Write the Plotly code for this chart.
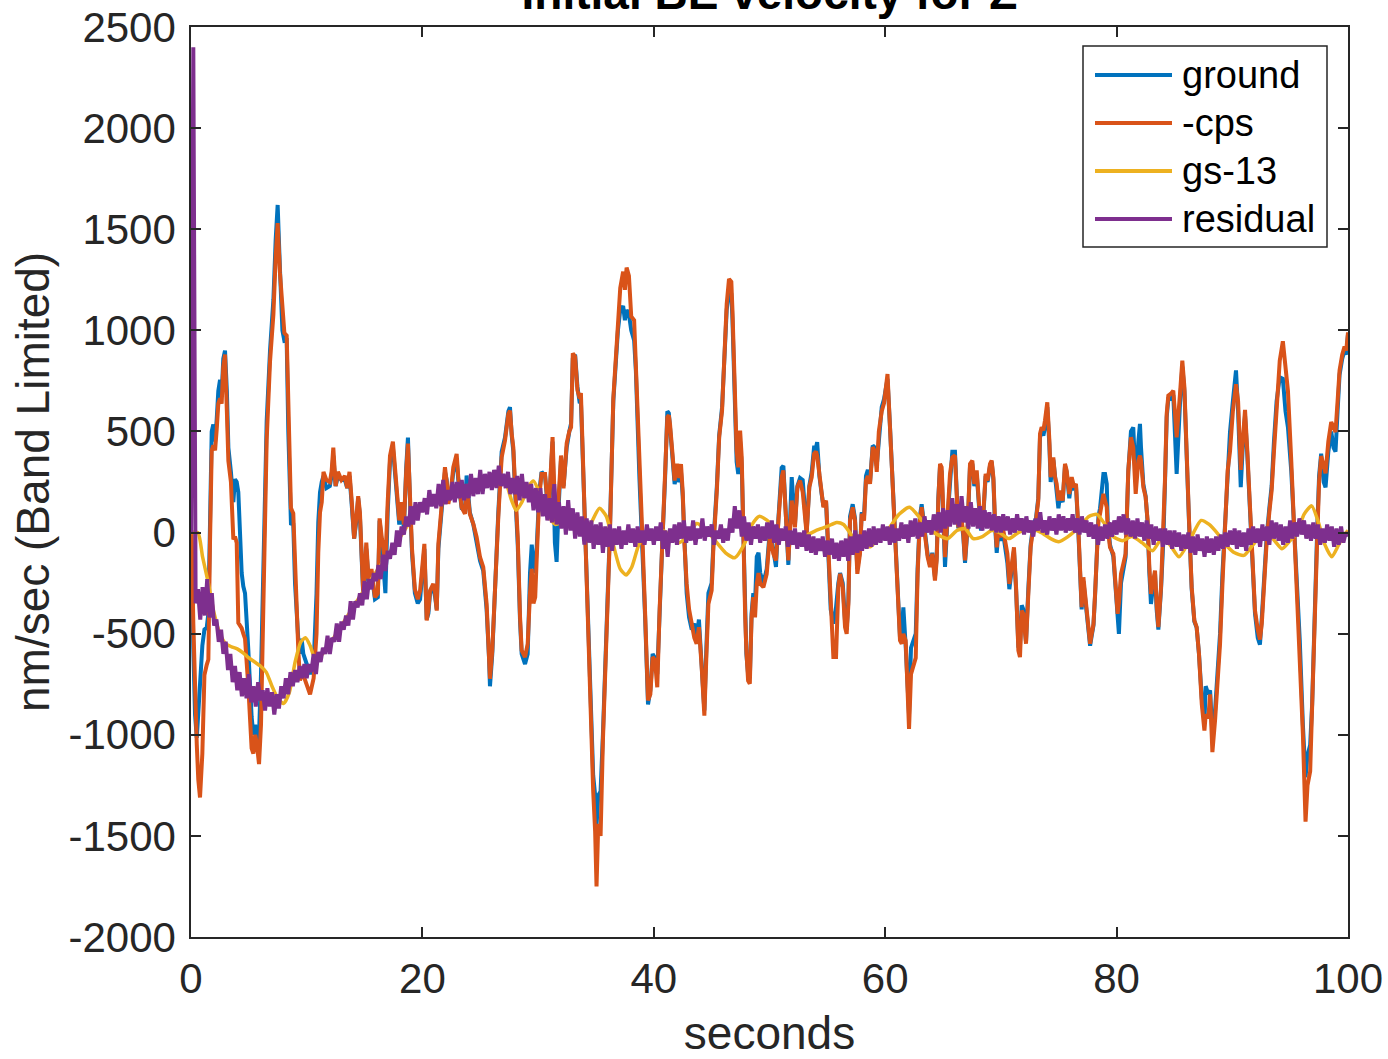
import plotly.graph_objects as go

# ---------------- data ----------------
x_tick_vals = [0, 20, 40, 60, 80, 100]
x_tick_text = ["0", "20", "40", "60", "80", "100"]
y_tick_vals = [-2000, -1500, -1000, -500, 0, 500, 1000, 1500, 2000, 2500]
y_tick_text = ["-2000", "-1500", "-1000", "-500", "0", "500", "1000", "1500", "2000", "2500"]

series_names = ["ground", "-cps", "gs-13", "residual"]

# key sample times (s) shared by ground and -cps
t_key = [
    0, 0.06, 0.2, 0.35, 0.5, 0.63, 0.78, 0.98, 1.16, 1.36,
    1.5, 1.64, 1.79, 1.93, 2.08, 2.22, 2.36, 2.51, 2.65, 2.79,
    2.94, 3.1, 3.23, 3.45, 3.66, 3.8, 3.95, 4.09, 4.25, 4.38,
    4.52, 4.67, 4.95, 5.1, 5.24, 5.39, 5.55, 5.68, 5.88, 6.05,
    6.25, 6.54, 6.83, 7.12, 7.32, 7.49, 7.69, 7.9, 8.07, 8.27,
    8.41, 8.64, 8.84, 8.99, 9.27, 9.42, 9.56, 9.71, 10.0, 10.29,
    10.6, 10.85, 11.0, 11.15, 11.3, 11.45, 11.7, 12.0, 12.15, 12.3,
    12.5, 12.7, 13.0, 13.3, 13.5, 13.7, 13.9, 14.1, 14.3, 14.45,
    14.6, 14.9, 15.15, 15.35, 15.6, 15.9, 16.15, 16.3, 16.5, 16.8,
    17.0, 17.2, 17.45, 17.75, 18.0, 18.2, 18.4, 18.6, 18.75, 18.95,
    19.1, 19.35, 19.6, 19.8, 20.0, 20.17, 20.37, 20.52, 20.66, 20.94,
    21.1, 21.24, 21.38, 21.67, 21.95, 22.1, 22.24, 22.45, 22.67, 22.96,
    23.1, 23.39, 23.68, 23.82, 24.1, 24.4, 24.69, 24.98, 25.26, 25.55,
    25.76, 25.84, 26.04, 26.27, 26.56, 26.85, 27.14, 27.43, 27.57, 27.72,
    27.86, 28.0, 28.24, 28.44, 28.58, 28.87, 29.1, 29.3, 29.45, 29.6,
    29.75, 29.9, 30.1, 30.3, 30.6, 30.9, 31.05, 31.25, 31.45, 31.6,
    31.75, 31.98, 32.2, 32.47, 32.7, 32.85, 33.0, 33.2, 33.4, 33.6,
    33.7, 33.9, 34.2, 34.5, 34.76, 34.93, 35.05, 35.2, 35.4, 35.6,
    35.9, 36.2, 36.5, 36.7, 36.9, 37.1, 37.35, 37.5, 37.65, 37.85,
    38.05, 38.3, 38.45, 38.75, 39.0, 39.25, 39.5, 39.7, 39.9, 40.1,
    40.3, 40.5, 40.75, 40.97, 41.17, 41.3, 41.4, 41.6, 41.8, 42.0,
    42.2, 42.35, 42.5, 42.65, 42.84, 43.05, 43.28, 43.5, 43.7, 43.9,
    44.14, 44.37, 44.55, 44.72, 45.0, 45.15, 45.45, 45.65, 45.9, 46.1,
    46.3, 46.5, 46.7, 46.8, 46.96, 47.16, 47.3, 47.46, 47.6, 47.75,
    47.9, 48.0, 48.15, 48.3, 48.45, 48.6, 48.75, 48.9, 49.05, 49.2,
    49.47, 49.76, 50.04, 50.33, 50.56, 50.77, 51.05, 51.2, 51.34, 51.63,
    51.92, 52.2, 52.41, 52.64, 52.87, 53.07, 53.21, 53.44, 53.65, 53.85,
    54.02, 54.12, 54.31, 54.51, 54.66, 54.89, 55.09, 55.29, 55.52, 55.75,
    55.95, 56.1, 56.33, 56.53, 56.67, 56.82, 56.96, 57.19, 57.39, 57.59,
    57.82, 57.97, 58.17, 58.34, 58.5, 58.69, 58.92, 59.12, 59.27, 59.45,
    59.7, 59.9, 60.2, 60.4, 60.6, 60.85, 61.07, 61.28, 61.43, 61.57,
    61.77, 61.94, 62.06, 62.23, 62.44, 62.64, 62.8, 63.0, 63.15, 63.44,
    63.67, 63.87, 64.07, 64.3, 64.45, 64.59, 64.74, 64.88, 65.02, 65.17,
    65.4, 65.6, 65.8, 66.03, 66.18, 66.32, 66.55, 66.75, 66.9, 67.13,
    67.33, 67.53, 67.7, 67.91, 68.11, 68.28, 68.48, 68.68, 68.85, 69.06,
    69.2, 69.35, 69.49, 69.64, 69.78, 69.93, 70.16, 70.36, 70.56, 70.73,
    70.93, 71.13, 71.31, 71.51, 71.65, 71.8, 71.94, 72.17, 72.37, 72.57,
    72.8, 73.03, 73.23, 73.38, 73.52, 73.67, 73.81, 74.01, 74.19, 74.3,
    74.53, 74.68, 74.82, 74.97, 75.11, 75.34, 75.54, 75.68, 75.91, 76.12,
    76.32, 76.49, 76.69, 76.84, 76.98, 77.13, 77.27, 77.42, 77.56, 77.71,
    77.85, 78.0, 78.14, 78.28, 78.43, 78.57, 78.72, 78.86, 79.0, 79.15,
    79.23, 79.43, 79.72, 79.92, 80.09, 80.2, 80.38, 80.58, 80.78, 81.01,
    81.24, 81.44, 81.65, 81.88, 82.02, 82.11, 82.31, 82.51, 82.68, 82.83,
    82.97, 83.17, 83.32, 83.46, 83.61, 83.84, 84.04, 84.18, 84.33, 84.47,
    84.7, 84.9, 85.05, 85.19, 85.48, 85.68, 85.86, 86.06, 86.26, 86.49,
    86.72, 86.92, 87.12, 87.36, 87.59, 87.7, 87.93, 88.08, 88.28, 88.51,
    88.74, 88.94, 89.15, 89.37, 89.6, 89.8, 90.05, 90.32, 90.5, 90.73,
    90.9, 91.1, 91.3, 91.53, 91.75, 91.96, 92.2, 92.39, 92.55, 92.7,
    92.97, 93.2, 93.4, 93.6, 93.83, 94.1, 94.37, 94.6, 94.81, 95.1,
    95.39, 95.6, 95.83, 96.1, 96.33, 96.5, 96.73, 96.9, 97.05, 97.33,
    97.5, 97.68, 97.9, 98.06, 98.3, 98.55, 98.75, 98.92, 99.1, 99.27,
    99.5, 99.7, 99.85, 100.0,
]

# -cps (nm/sec)
v_cps = [
    0, 0, -450, -835, -1050, -1222, -1310, -1093, -705, -654,
    -628, -60, 406, 431, 406, 509, 638, 664, 638, 819,
    880, 600, 354, 250, -34, -20, -50, -447, -460, -473,
    -500, -525, -757, -950, -1067, -1093, -1000, -1040, -1145, -950,
    -318, 457, 845, 1078, 1362, 1530, 1284, 1078, 987, 974,
    587, 121, 95, -163, -576, -731, -700, -705, -760, -800,
    -720, -500, -100, 100, 150, 300, 260, 250, 300, 420,
    230, 300, 260, 280, 220, 300, 150, -30, 80, 180,
    100, -320, -50, -230, -180, -320, -300, 70, -30, -150,
    150, 380, 450, 200, 60, 150, 40, 300, 440, 150,
    -80, -280, -330, -287, -150, -56, -435, -380, -287, -254,
    -300, -386, -56, 158, 323, 250, 142, 200, 323, 389,
    274, 125, 92, 240, 92, 43, -23, -122, -171, -353,
    -583, -723, -583, -254, 76, 372, 455, 587, 603, 488,
    420, 241, -23, -418, -583, -616, -550, -300, -180, -350,
    -320, -100, 178, 290, 290, 88, 290, 472, 130, 50,
    150, 381, 219, 441, 502, 520, 886, 870, 704, 663,
    690, 300, -226, -731, -1276, -1478, -1750, -1440, -1500, -1033,
    -529, -24, 663, 870, 1047, 1209, 1290, 1200, 1310, 1270,
    1068, 1050, 825, 300, 0, -400, -830, -800, -616, -630,
    -765, -386, -40, 240, 570, 580, 537, 400, 257, 340,
    270, 339, 200, -56, -254, -380, -468, -520, -550, -468,
    -666, -905, -600, -353, -287, -73, 208, 471, 603, 867,
    1130, 1254, 1240, 1097, 817, 405, 323, 504, 372, -89,
    -419, -583, -732, -748, -419, -320, -419, -254, -200, -254,
    -270, -204, -7, -105, -138, 59, 274, 307, 158, -138,
    158, 26, 224, 257, 200, 59, -7, 224, 274, 389,
    400, 380, 274, 175, 125, 158, -105, -402, -616, -616,
    -270, -204, -270, -468, -501, -353, 59, 125, 59, -204,
    -105, 92, 59, 257, 280, 241, 422, 400, 300, 500,
    600, 640, 784, 537, 290, -7, -287, -534, -550, -501,
    -534, -864, -971, -700, -666, -620, -204, 59, 125, -10,
    -122, -171, -105, -237, -138, 158, 340, 323, 26, -122,
    92, 290, 372, 381, 191, 26, 92, -7, -138, 43,
    340, 356, 241, 307, 142, 26, 92, 290, 257, 340,
    356, 274, 59, -73, 26, -23, 26, -40, -105, -254,
    -155, -73, -270, -583, -616, -386, -402, -550, -303, -73,
    26, 59, 158, 488, 521, 505, 554, 644, 455, 274,
    372, 274, 241, 158, 208, 158, 340, 307, 191, 274,
    224, 241, 26, -204, -369, -221, -303, -386, -435, -550,
    -501, -453, -303, -105, 59, 92, 158, 191, 158, 125,
    26, -73, -105, -270, -402, -350, -204, -155, -105, 307,
    471, 420, 191, 356, 380, 356, 224, 175, 59, -171,
    -303, -237, -188, -353, -468, -270, -23, 257, 587, 677,
    687, 702, 587, 471, 686, 850, 719, 339, 59, -270,
    -435, -468, -600, -847, -979, -900, -917, -800, -1086, -929,
    -750, -550, -250, 0, 307, 400, 600, 734, 650, 310,
    450, 607, 400, 124, -150, -385, -480, -529, -450, -300,
    -46, 100, 208, 400, 632, 850, 946, 800, 700, 350,
    -46, -300, -554, -995, -1430, -1250, -1181, -900, -554, -46,
    250, 378, 330, 293, 450, 547, 520, 497, 650, 802,
    880, 920, 900, 990,
]

# ground (nm/sec)
v_ground = [
    0, -100, -576, -900, -1015, -900, -760, -560, -480, -470,
    -400, 100, 500, 535, 450, 560, 700, 755, 680, 860,
    900, 700, 420, 300, 150, 264, 250, 200, -50, -200,
    -266, -300, -576, -800, -912, -1000, -950, -1041, -1000, -700,
    -150, 550, 900, 1150, 1450, 1620, 1300, 1000, 948, 950,
    500, 44, 40, -250, -525, -600, -525, -600, -650, -700,
    -650, -300, 50, 200, 250, 280, 220, 230, 280, 380,
    230, 280, 260, 260, 220, 280, 130, -30, 60, 170,
    80, -330, -80, -240, -200, -330, -320, 60, -60, -300,
    100, 350, 420, 180, 40, 130, 20, 320, 470, 120,
    -100, -300, -350, -330, -200, -80, -430, -400, -300, -270,
    -320, -380, -80, 140, 300, 260, 160, 180, 300, 360,
    260, 120, 110, 282, 100, 40, -40, -140, -190, -380,
    -620, -760, -600, -250, 100, 400, 470, 600, 620, 480,
    400, 220, -60, -440, -600, -650, -600, -200, -60, -150,
    -200, -50, 200, 300, 280, 80, 280, 450, -50, -145,
    100, 360, 230, 420, 500, 540, 860, 880, 720, 640,
    650, 280, -250, -760, -1200, -1300, -1450, -1300, -1280, -1000,
    -500, 0, 650, 850, 1000, 1100, 1120, 1050, 1100, 1080,
    1000, 950, 800, 280, -20, -420, -850, -780, -600, -620,
    -700, -350, -30, 260, 600, 590, 500, 380, 240, 300,
    250, 300, 180, -80, -300, -420, -480, -450, -520, -430,
    -640, -880, -560, -300, -250, -50, 230, 480, 620, 850,
    1100, 1200, 1180, 1050, 780, 350, 290, 450, 330, -100,
    -430, -600, -700, -720, -400, -300, -350, -120, -100, -200,
    -250, -180, 20, -90, -170, 70, 320, 330, 170, -160,
    274, 40, 230, 270, 260, 70, 0, 230, 300, 420,
    420, 447, 280, 190, 130, 150, -90, -380, -450, -370,
    -250, -200, -250, -440, -480, -330, 80, 140, 70, -180,
    -90, 100, 80, 280, 310, 250, 430, 420, 330, 480,
    620, 660, 760, 540, 300, 0, -280, -520, -480, -370,
    -560, -800, -900, -570, -530, -500, -180, 80, 140, 0,
    -110, -160, -100, -220, -120, 170, 330, 300, 0, -170,
    80, 280, 400, 400, 200, 20, 80, -20, -150, 30,
    330, 340, 230, 290, 130, 10, 80, 280, 250, 330,
    350, 260, 40, -100, 0, -40, 10, -60, -150, -280,
    -170, -90, -280, -560, -560, -360, -380, -540, -280, -60,
    40, 70, 170, 470, 500, 480, 520, 620, 430, 250,
    360, 260, 200, 120, 180, 150, 330, 300, 170, 260,
    210, 230, 10, -220, -380, -240, -320, -400, -450, -560,
    -510, -460, -310, -100, 80, 120, 200, 290, 290, 240,
    60, -60, -120, -300, -450, -501, -250, -170, -120, 300,
    500, 520, 250, 450, 537, 420, 240, 180, 50, -200,
    -353, -260, -200, -380, -480, -280, -40, 240, 570, 660,
    660, 680, 500, 290, 640, 820, 700, 330, 50, -280,
    -440, -470, -600, -820, -940, -760, -800, -780, -1000, -880,
    -700, -500, -200, 50, 350, 497, 650, 802, 600, 225,
    420, 580, 380, 100, -170, -400, -520, -554, -420, -260,
    -20, 120, 230, 450, 650, 768, 760, 600, 520, 300,
    -30, -280, -530, -950, -1210, -1100, -1050, -850, -500, 0,
    280, 390, 250, 224, 400, 500, 420, 400, 600, 780,
    860, 900, 880, 980,
]

# gs-13 (smooth), key times and values
t_gs = [
    0, 0.6, 1.0, 1.5, 2.0, 2.5, 3.0, 3.5, 4.0, 4.5,
    5.0, 5.5, 6.0, 6.5, 7.0, 7.5, 8.0, 8.5, 9.0, 9.5,
    9.9, 10.3, 10.7, 11.2, 12, 13, 14, 15, 16, 17,
    18, 19, 20, 21, 22, 23, 24, 25, 26, 26.6,
    27.2, 27.7, 28.1, 28.6, 29.2, 29.6, 30.1, 30.7, 31.5, 32.3,
    33.0, 33.8, 34.5, 35.3, 35.9, 36.5, 37.1, 37.6, 38.1, 38.7,
    39.3, 40.0, 40.8, 41.5, 42.2, 43.0, 43.7, 44.4, 45.3, 46.2,
    47.0, 47.8, 48.5, 49.1, 49.8, 50.5, 51.3, 52.2, 53.0, 54.0,
    55.0, 55.8, 56.4, 57.2, 58.0, 58.7, 59.4, 60.3, 61.2, 62.1,
    62.9, 63.7, 64.5, 65.4, 66.2, 66.9, 67.6, 68.4, 69.2, 69.9,
    70.7, 71.5, 72.5, 73.5, 74.3, 75.0, 75.8, 76.8, 77.6, 78.3,
    79.0, 79.7, 80.5, 81.3, 82.2, 83.1, 83.9, 84.6, 85.4, 86.3,
    87.3, 88.0, 88.8, 89.6, 90.2, 91.0, 91.8, 92.7, 93.5, 94.3,
    95.0, 95.6, 96.2, 96.86, 97.5, 98.0, 98.6, 99.2, 99.7, 100.0,
]
v_gs = [
    0, 0, -120, -250, -400, -500, -550, -565, -575, -595,
    -620, -640, -660, -690, -760, -820, -845, -790, -640, -540,
    -520, -560, -620, -610, -550, -460, -370, -280, -195, -110,
    -30, 60, 130, 160, 185, 205, 225, 245, 270, 290,
    250, 160, 110, 150, 230, 255, 200, 100, 40, 60,
    40, 0, 40, 120, 80, -60, -180, -210, -170, -60,
    0, -10, 10, -20, -50, -10, 45, 20, -40, -100,
    -125, -60, 40, 80, 60, 20, -20, -40, -20, 10,
    30, 50, 40, -20, -60, -70, -30, 20, 90, 125,
    80, 20, -10, -30, 10, 20, -30, -20, 10, 0,
    -30, 0, 20, 0, -30, -45, -20, 30, 80, 90,
    40, -20, -40, -20, -50, -90, -30, -60, -120, -40,
    60, 40, -10, -70, -100, -113, -60, 0, -30, -80,
    -40, 0, 90, 132, 40, -60, -120, -60, -10, 10,
]

# residual, sampled every 0.2 s from 0 to 100 s
v_res = [
    0, 2400, -350, -280, -430, -270, -410, -230, -420, -300,
    -460, -430, -540, -480, -600, -540, -680, -600, -740, -660,
    -780, -690, -810, -720, -820, -700, -840, -760, -860, -740,
    -830, -780, -880, -770, -860, -790, -900, -800, -870, -760,
    -820, -720, -800, -690, -760, -680, -740, -660, -720, -650,
    -720, -650, -690, -600, -700, -590, -640, -570, -600, -510,
    -600, -520, -540, -450, -540, -440, -480, -410, -460, -340,
    -430, -340, -370, -300, -360, -240, -330, -230, -280, -200,
    -240, -160, -230, -110, -190, -90, -130, -50, -110, 10,
    -70, 30, -10, 80, 30, 130, 40, 150, 60, 150,
    100, 170, 90, 210, 130, 190, 120, 240, 130, 260,
    140, 210, 160, 250, 150, 250, 170, 260, 160, 240,
    170, 290, 180, 270, 190, 310, 190, 290, 220, 300,
    210, 310, 220, 330, 230, 290, 220, 300, 190, 270,
    190, 280, 160, 290, 170, 250, 150, 240, 110, 220,
    100, 220, 80, 190, 60, 170, 50, 240, 40, 150,
    20, 130, -10, 160, 10, 120, -30, 100, -20, 80,
    -60, 70, -50, 60, -80, 40, -60, 50, -100, 30,
    -70, 40, -90, 20, -60, 30, -80, 10, -60, 40,
    -50, 20, -70, 30, -50, 10, -60, 40, -40, 20,
    -60, 30, -40, 50, -80, 10, -120, 20, -50, 40,
    -60, 50, -30, 60, -50, 30, -40, 60, -60, 20,
    -30, 70, -40, 30, -20, 40, -60, 10, -30, 40,
    -50, 20, -40, 70, 0, 130, 20, 110, -20, 80,
    -40, 50, -60, 30, -30, 40, -50, 30, -40, 50,
    -30, 60, -50, 40, -60, 20, -40, 30, -70, 10,
    -60, 20, -80, 0, -70, 10, -90, -10, -100, -20,
    -110, -30, -90, -20, -120, -40, -110, -30, -130, -50,
    -140, -40, -120, -30, -140, -20, -110, 10, -100, -10,
    -90, 10, -80, 20, -70, 30, -60, 20, -50, 40,
    -40, 30, -60, 40, -50, 20, -40, 50, -30, 40,
    -50, 60, -20, 70, -30, 50, -20, 80, 0, 60,
    -10, 90, 10, 100, 0, 120, 20, 110, 30, 170,
    40, 140, 30, 180, 50, 130, 20, 150, 30, 120,
    20, 130, 10, 110, 20, 100, 10, 90, 0, 80,
    0, 90, 10, 80, -10, 70, 0, 90, 10, 70,
    -10, 80, 0, 60, -20, 70, 10, 100, 0, 60,
    -10, 80, 10, 70, -10, 90, 10, 80, 0, 70,
    10, 90, 0, 70, -10, 80, 0, 60, -20, 50,
    -30, 40, -60, 30, -40, 40, -30, 50, -20, 60,
    -10, 80, 0, 90, -10, 70, -20, 60, -30, 70,
    -20, 50, -40, 60, -30, 40, -60, 30, -40, 20,
    -70, 20, -60, 10, -80, 10, -70, 0, -90, -10,
    -80, 0, -100, -20, -110, -10, -90, -30, -120, -20,
    -100, -30, -110, -20, -90, -10, -80, 0, -70, 10,
    -60, 20, -80, 10, -70, 0, -90, 20, -60, 30,
    -50, 20, -70, 40, -40, 30, -60, 60, -30, 50,
    -40, 40, -60, 30, -50, 60, -30, 50, -20, 70,
    -10, 60, -30, 40, -40, 50, -30, 40, -60, 20,
    -50, 40, -40, 30, -70, 20, -60, 30, -50, 0,
    -20,
]
res_dt = 0.2

# ---------------- styling ----------------
C_BLUE = "#0072BD"
C_ORANGE = "#D95319"
C_YELLOW = "#EDB120"
C_PURPLE = "#7E2F8E"
AX = "#262626"
FONT = "Liberation Sans, Arial, Helvetica, sans-serif"

W, H = 1388, 1059
L, R, T, B = 191, 40, 27, 122
PW, PH = W - L - R, H - T - B

n = min(len(t_key), len(v_cps), len(v_ground))
t_res = [round(i * res_dt, 1) for i in range(len(v_res))]

fig = go.Figure()
fig.add_trace(go.Scatter(x=t_key[:n], y=v_ground[:n], mode="lines", name=series_names[0],
                         line=dict(color=C_BLUE, width=4), showlegend=False))
fig.add_trace(go.Scatter(x=t_key[:n], y=v_cps[:n], mode="lines", name=series_names[1],
                         line=dict(color=C_ORANGE, width=4), showlegend=False))
fig.add_trace(go.Scatter(x=t_gs, y=v_gs, mode="lines", name=series_names[2],
                         line=dict(color=C_YELLOW, width=3.5, shape="spline", smoothing=0.6),
                         showlegend=False))
fig.add_trace(go.Scatter(x=t_res, y=v_res, mode="lines", name=series_names[3],
                         line=dict(color=C_PURPLE, width=4), showlegend=False))

axis_common = dict(
    showline=True, linecolor=AX, linewidth=1.5, mirror="ticks",
    ticks="inside", ticklen=10, tickwidth=1.5, tickcolor=AX,
    showgrid=False, zeroline=False, automargin=False,
    tickfont=dict(family=FONT, size=42, color=AX),
)

fig.update_layout(
    width=W, height=H,
    margin=dict(l=L, r=R, t=T, b=B, pad=0, autoexpand=False),
    paper_bgcolor="white", plot_bgcolor="white",
    showlegend=False,
    title=dict(text="<b>Initial BE velocity for Z</b>", x=0.5, xref="paper",
               xanchor="center", y=1 - 9 / H, yref="container", yanchor="bottom",
               font=dict(family=FONT, size=46, color="black")),
    xaxis=dict(range=[0, 100], tickvals=x_tick_vals, ticktext=x_tick_text,
               ticklabelstandoff=4,
               title=dict(text="seconds", standoff=19,
                          font=dict(family=FONT, size=46, color=AX)),
               **axis_common),
    yaxis=dict(range=[-2000, 2500], tickvals=y_tick_vals, ticktext=y_tick_text,
               ticklabelstandoff=5, **axis_common),
)

# legend drawn manually (long line samples like the original)
def px_x(p):
    return (p - L) / PW

def px_y(p):
    return (H - B - p) / PH

shapes = [dict(type="rect", xref="paper", yref="paper",
               x0=px_x(1083), x1=px_x(1327), y0=px_y(247), y1=px_y(46),
               line=dict(color=AX, width=1.5), fillcolor="white", layer="above")]
annotations = [dict(x=px_x(33), y=0.5, xref="paper", yref="paper",
                    text="nm/sec (Band Limited)", textangle=-90, showarrow=False,
                    xanchor="center", yanchor="middle",
                    font=dict(family=FONT, size=46, color=AX))]
leg_colors = [C_BLUE, C_ORANGE, C_YELLOW, C_PURPLE]
for i, (name, col) in enumerate(zip(series_names, leg_colors)):
    yy = px_y(75 + 48 * i)
    shapes.append(dict(type="line", xref="paper", yref="paper",
                       x0=px_x(1095), x1=px_x(1172), y0=yy, y1=yy,
                       line=dict(color=col, width=4), layer="above"))
    annotations.append(dict(x=px_x(1180), y=yy, xref="paper", yref="paper",
                            text=name, showarrow=False, xanchor="left", yanchor="middle",
                            font=dict(family=FONT, size=38, color="black")))
fig.update_layout(shapes=shapes, annotations=annotations)

fig.write_html("out.html", config={"displayModeBar": False},
               post_script="document.body.style.margin='0';document.body.style.overflow='hidden';")
